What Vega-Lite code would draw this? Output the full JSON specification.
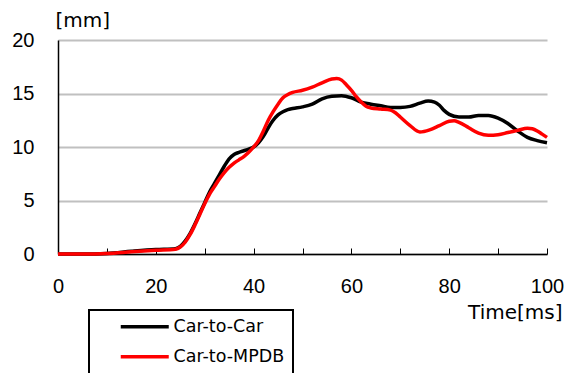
{
  "$schema": "https://vega.github.io/schema/vega-lite/v6.json",
  "width": 489,
  "height": 214,
  "autosize": "none",
  "padding": {"left": 58, "top": 40, "right": 19, "bottom": 119},
  "background": "white",
  "config": {
    "view": {"stroke": null},
    "font": "Liberation Sans"
  },
  "data": {
    "values": [
      {"t": 0, "v": 0, "s": "Car-to-Car"},
      {"t": 5, "v": 0, "s": "Car-to-Car"},
      {"t": 10, "v": 0.05, "s": "Car-to-Car"},
      {"t": 15, "v": 0.25, "s": "Car-to-Car"},
      {"t": 20, "v": 0.42, "s": "Car-to-Car"},
      {"t": 24, "v": 0.5, "s": "Car-to-Car"},
      {"t": 25, "v": 0.7, "s": "Car-to-Car"},
      {"t": 26, "v": 1.2, "s": "Car-to-Car"},
      {"t": 27, "v": 1.9, "s": "Car-to-Car"},
      {"t": 28, "v": 2.8, "s": "Car-to-Car"},
      {"t": 29, "v": 3.8, "s": "Car-to-Car"},
      {"t": 30, "v": 4.8, "s": "Car-to-Car"},
      {"t": 31, "v": 5.8, "s": "Car-to-Car"},
      {"t": 32, "v": 6.6, "s": "Car-to-Car"},
      {"t": 33, "v": 7.4, "s": "Car-to-Car"},
      {"t": 34, "v": 8.2, "s": "Car-to-Car"},
      {"t": 35, "v": 8.9, "s": "Car-to-Car"},
      {"t": 36, "v": 9.3, "s": "Car-to-Car"},
      {"t": 37, "v": 9.5, "s": "Car-to-Car"},
      {"t": 38, "v": 9.65, "s": "Car-to-Car"},
      {"t": 39, "v": 9.8, "s": "Car-to-Car"},
      {"t": 40, "v": 10.0, "s": "Car-to-Car"},
      {"t": 41, "v": 10.4, "s": "Car-to-Car"},
      {"t": 42, "v": 11.0, "s": "Car-to-Car"},
      {"t": 43, "v": 11.8, "s": "Car-to-Car"},
      {"t": 44, "v": 12.5, "s": "Car-to-Car"},
      {"t": 45, "v": 13.0, "s": "Car-to-Car"},
      {"t": 46, "v": 13.3, "s": "Car-to-Car"},
      {"t": 47, "v": 13.5, "s": "Car-to-Car"},
      {"t": 48, "v": 13.6, "s": "Car-to-Car"},
      {"t": 50, "v": 13.75, "s": "Car-to-Car"},
      {"t": 52, "v": 14.0, "s": "Car-to-Car"},
      {"t": 54, "v": 14.5, "s": "Car-to-Car"},
      {"t": 56, "v": 14.75, "s": "Car-to-Car"},
      {"t": 58, "v": 14.8, "s": "Car-to-Car"},
      {"t": 60, "v": 14.6, "s": "Car-to-Car"},
      {"t": 62, "v": 14.2, "s": "Car-to-Car"},
      {"t": 64, "v": 14.0, "s": "Car-to-Car"},
      {"t": 66, "v": 13.85, "s": "Car-to-Car"},
      {"t": 68, "v": 13.7, "s": "Car-to-Car"},
      {"t": 70, "v": 13.7, "s": "Car-to-Car"},
      {"t": 72, "v": 13.8, "s": "Car-to-Car"},
      {"t": 74, "v": 14.1, "s": "Car-to-Car"},
      {"t": 75.7, "v": 14.3, "s": "Car-to-Car"},
      {"t": 77, "v": 14.2, "s": "Car-to-Car"},
      {"t": 78, "v": 13.9, "s": "Car-to-Car"},
      {"t": 79, "v": 13.4, "s": "Car-to-Car"},
      {"t": 80, "v": 13.05, "s": "Car-to-Car"},
      {"t": 82, "v": 12.8, "s": "Car-to-Car"},
      {"t": 84, "v": 12.8, "s": "Car-to-Car"},
      {"t": 86, "v": 12.95, "s": "Car-to-Car"},
      {"t": 88, "v": 12.95, "s": "Car-to-Car"},
      {"t": 90, "v": 12.7, "s": "Car-to-Car"},
      {"t": 92, "v": 12.2, "s": "Car-to-Car"},
      {"t": 94, "v": 11.5, "s": "Car-to-Car"},
      {"t": 96, "v": 10.9, "s": "Car-to-Car"},
      {"t": 98, "v": 10.6, "s": "Car-to-Car"},
      {"t": 100, "v": 10.4, "s": "Car-to-Car"},
      {"t": 0, "v": 0, "s": "Car-to-MPDB"},
      {"t": 5, "v": 0, "s": "Car-to-MPDB"},
      {"t": 10, "v": 0.05, "s": "Car-to-MPDB"},
      {"t": 15, "v": 0.2, "s": "Car-to-MPDB"},
      {"t": 20, "v": 0.35, "s": "Car-to-MPDB"},
      {"t": 24, "v": 0.45, "s": "Car-to-MPDB"},
      {"t": 25, "v": 0.65, "s": "Car-to-MPDB"},
      {"t": 26, "v": 1.1, "s": "Car-to-MPDB"},
      {"t": 27, "v": 1.8, "s": "Car-to-MPDB"},
      {"t": 28, "v": 2.7, "s": "Car-to-MPDB"},
      {"t": 29, "v": 3.7, "s": "Car-to-MPDB"},
      {"t": 30, "v": 4.7, "s": "Car-to-MPDB"},
      {"t": 31, "v": 5.6, "s": "Car-to-MPDB"},
      {"t": 32, "v": 6.3, "s": "Car-to-MPDB"},
      {"t": 33, "v": 7.0, "s": "Car-to-MPDB"},
      {"t": 34, "v": 7.6, "s": "Car-to-MPDB"},
      {"t": 35, "v": 8.1, "s": "Car-to-MPDB"},
      {"t": 36, "v": 8.5, "s": "Car-to-MPDB"},
      {"t": 37, "v": 8.8, "s": "Car-to-MPDB"},
      {"t": 38, "v": 9.1, "s": "Car-to-MPDB"},
      {"t": 39, "v": 9.5, "s": "Car-to-MPDB"},
      {"t": 40, "v": 10.0, "s": "Car-to-MPDB"},
      {"t": 41, "v": 10.6, "s": "Car-to-MPDB"},
      {"t": 42, "v": 11.5, "s": "Car-to-MPDB"},
      {"t": 43, "v": 12.5, "s": "Car-to-MPDB"},
      {"t": 44, "v": 13.3, "s": "Car-to-MPDB"},
      {"t": 45, "v": 14.0, "s": "Car-to-MPDB"},
      {"t": 46, "v": 14.6, "s": "Car-to-MPDB"},
      {"t": 47, "v": 14.9, "s": "Car-to-MPDB"},
      {"t": 48, "v": 15.1, "s": "Car-to-MPDB"},
      {"t": 50, "v": 15.3, "s": "Car-to-MPDB"},
      {"t": 52, "v": 15.6, "s": "Car-to-MPDB"},
      {"t": 54, "v": 16.0, "s": "Car-to-MPDB"},
      {"t": 56, "v": 16.35, "s": "Car-to-MPDB"},
      {"t": 57, "v": 16.4, "s": "Car-to-MPDB"},
      {"t": 58, "v": 16.25, "s": "Car-to-MPDB"},
      {"t": 59, "v": 15.8, "s": "Car-to-MPDB"},
      {"t": 60, "v": 15.3, "s": "Car-to-MPDB"},
      {"t": 61, "v": 14.7, "s": "Car-to-MPDB"},
      {"t": 62, "v": 14.2, "s": "Car-to-MPDB"},
      {"t": 63, "v": 13.8, "s": "Car-to-MPDB"},
      {"t": 64, "v": 13.65, "s": "Car-to-MPDB"},
      {"t": 66, "v": 13.55, "s": "Car-to-MPDB"},
      {"t": 68, "v": 13.45, "s": "Car-to-MPDB"},
      {"t": 69, "v": 13.2, "s": "Car-to-MPDB"},
      {"t": 70, "v": 12.8, "s": "Car-to-MPDB"},
      {"t": 72, "v": 12.0, "s": "Car-to-MPDB"},
      {"t": 74, "v": 11.4, "s": "Car-to-MPDB"},
      {"t": 76, "v": 11.6, "s": "Car-to-MPDB"},
      {"t": 78, "v": 12.0, "s": "Car-to-MPDB"},
      {"t": 80, "v": 12.4, "s": "Car-to-MPDB"},
      {"t": 81, "v": 12.45, "s": "Car-to-MPDB"},
      {"t": 82, "v": 12.3, "s": "Car-to-MPDB"},
      {"t": 84, "v": 11.8, "s": "Car-to-MPDB"},
      {"t": 86, "v": 11.3, "s": "Car-to-MPDB"},
      {"t": 88, "v": 11.1, "s": "Car-to-MPDB"},
      {"t": 90, "v": 11.15, "s": "Car-to-MPDB"},
      {"t": 92, "v": 11.35, "s": "Car-to-MPDB"},
      {"t": 94, "v": 11.55, "s": "Car-to-MPDB"},
      {"t": 96, "v": 11.75, "s": "Car-to-MPDB"},
      {"t": 97, "v": 11.7, "s": "Car-to-MPDB"},
      {"t": 98, "v": 11.5, "s": "Car-to-MPDB"},
      {"t": 99, "v": 11.2, "s": "Car-to-MPDB"},
      {"t": 100, "v": 10.9, "s": "Car-to-MPDB"}
    ]
  },
  "mark": {"type": "line", "interpolate": "monotone", "strokeWidth": 3.5, "clip": false},
  "encoding": {
    "x": {
      "field": "t",
      "type": "quantitative",
      "scale": {"domain": [0, 100], "nice": false, "zero": false},
      "axis": {
        "title": "Time[ms]",
        "titleFont": "DejaVu Sans",
        "titleFontSize": 20,
        "titleFontWeight": "normal",
        "titleColor": "black",
        "titleAlign": "right",
        "titleBaseline": "middle",
        "titleAnchor": null,
        "titleX": 504,
        "titleY": 58,
        "values": [0, 10, 20, 30, 40, 50, 60, 70, 80, 90, 100],
        "labelExpr": "datum.value % 20 == 0 ? datum.label : ''",
        "labelFontSize": 20,
        "labelColor": "black",
        "labelPadding": 28,
        "labelFlush": false,
        "labelOverlap": false,
        "tickSize": -6,
        "tickColor": "black",
        "tickWidth": 1,
        "domainColor": "black",
        "domainWidth": 1.5,
        "grid": false
      }
    },
    "y": {
      "field": "v",
      "type": "quantitative",
      "scale": {"domain": [0, 20], "nice": false},
      "axis": {
        "title": "[mm]",
        "titleFont": "DejaVu Sans",
        "titleAngle": 0,
        "titleFontSize": 20,
        "titleFontWeight": "normal",
        "titleColor": "black",
        "titleAlign": "left",
        "titleBaseline": "middle",
        "titleAnchor": null,
        "titleX": -3,
        "titleY": -20,
        "values": [0, 5, 10, 15, 20],
        "labelFontSize": 20,
        "labelColor": "black",
        "labelPadding": 24,
        "labelBaseline": "middle",
        "labelFlush": false,
        "ticks": false,
        "domainColor": "black",
        "domainWidth": 1.5,
        "grid": true,
        "gridColor": "#c0c0c0",
        "gridWidth": 2
      }
    },
    "color": {
      "field": "s",
      "type": "nominal",
      "scale": {"domain": ["Car-to-Car", "Car-to-MPDB"], "range": ["#000000", "#ff0000"]},
      "legend": {
        "title": null,
        "orient": "none",
        "legendX": 31,
        "legendY": 270,
        "strokeColor": "black",
        "padding": 8,
        "symbolType": "M-4,0H4",
        "symbolSize": 144,
        "symbolStrokeWidth": 3.5,
        "symbolOffset": 39,
        "labelOffset": 20,
        "labelFont": "DejaVu Sans",
        "labelFontSize": 17.5,
        "labelColor": "black",
        "labelExpr": "datum.label + '\u00a0\u00a0\u00a0\u00a0\u00a0'",
        "rowPadding": 11,
        "encode": {"legend": {"update": {"strokeWidth": {"value": 2}}}}
      }
    }
  }
}
